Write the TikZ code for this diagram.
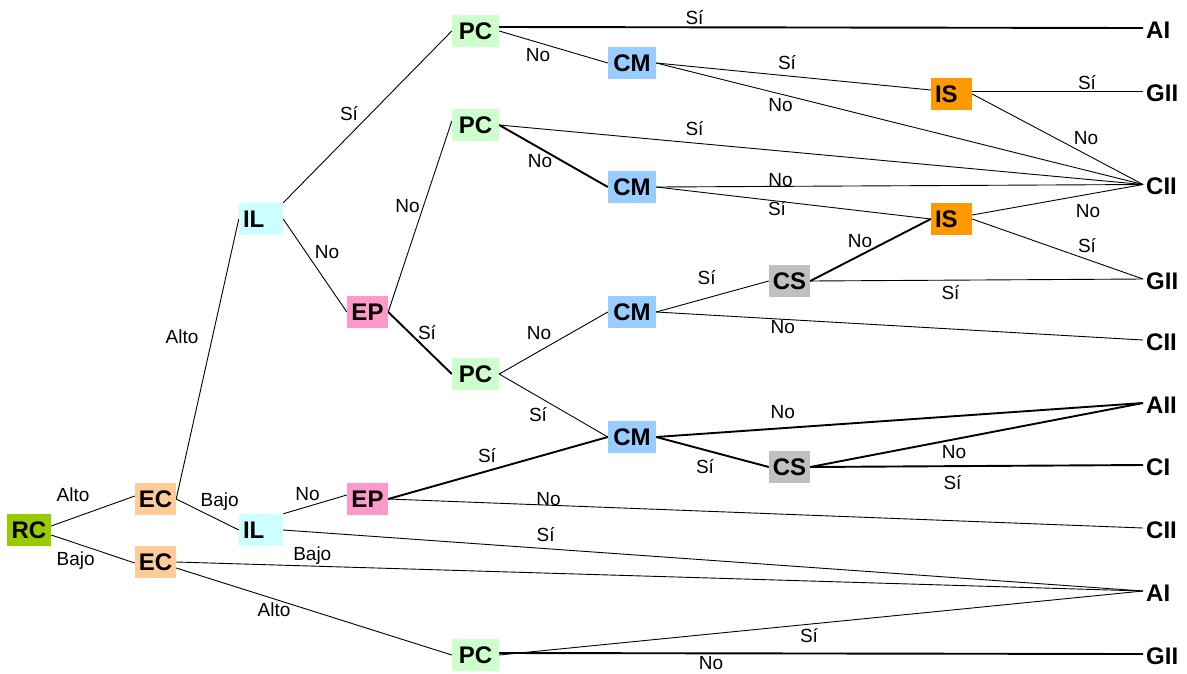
\documentclass[tikz,border=0pt]{standalone}
\usepackage{fontspec}
\setmainfont{Liberation Sans}
\usetikzlibrary{backgrounds}

\definecolor{cRC}{HTML}{99CC00}
\definecolor{cEC}{HTML}{FFCC99}
\definecolor{cIL}{HTML}{CCFFFF}
\definecolor{cEP}{HTML}{FF99CC}
\definecolor{cPC}{HTML}{CCFFCC}
\definecolor{cCM}{HTML}{99CCFF}
\definecolor{cCS}{HTML}{C0C0C0}
\definecolor{cIS}{HTML}{FF9900}

\tikzset{
  box/.style={inner sep=0pt, minimum height=32pt, text depth=0pt,
              font=\bfseries\fontsize{24}{24}\selectfont},
  rcbox/.style={box, fill=cRC, minimum width=44pt},
  ecbox/.style={box, fill=cEC, minimum width=41pt},
  ilbox/.style={box, fill=cIL, minimum width=44pt},
  epbox/.style={box, fill=cEP, minimum width=41pt},
  pcbox/.style={box, fill=cPC, minimum width=47pt},
  cmbox/.style={box, fill=cCM, minimum width=48pt},
  csbox/.style={box, fill=cCS, minimum width=41pt},
  isbox/.style={box, fill=cIS, minimum width=41pt},
  term/.style={anchor=west, inner sep=0pt, font=\bfseries\fontsize{24}{24}\selectfont},
  lbl/.style={inner sep=0pt, font=\fontsize{19}{19}\selectfont},
  thin line/.style={line width=0.9pt},
  thick line/.style={line width=1.9pt},
}

\begin{document}
\begin{tikzpicture}[x=1pt,y=-1pt]
\useasboundingbox (0,0) rectangle (1187,673);

% decision boxes
\node[rcbox] (RC)  at (29,530)    {RC};
\node[ecbox] (EC1) at (155.5,499) {EC};
\node[ecbox] (EC2) at (155.5,562) {EC};
\node[ilbox] (IL1) at (261,219)   {\makebox[44pt][l]{\hspace{4pt}IL}};
\node[ilbox] (IL2) at (261,530)   {\makebox[44pt][l]{\hspace{4pt}IL}};
\node[epbox] (EP1) at (367.5,312) {EP};
\node[epbox] (EP2) at (367.5,499) {EP};
\node[pcbox] (PC1) at (475.5,31)  {PC};
\node[pcbox] (PC2) at (475.5,125) {PC};
\node[pcbox] (PC3) at (475.5,374) {PC};
\node[pcbox] (PC4) at (475.5,655) {PC};
\node[cmbox] (CM1) at (632,63)    {CM};
\node[cmbox] (CM2) at (632,187)   {CM};
\node[cmbox] (CM3) at (632,312)   {CM};
\node[cmbox] (CM4) at (632,437)   {CM};
\node[csbox] (CS1) at (789.5,281) {CS};
\node[csbox] (CS2) at (789.5,467) {CS};
\node[isbox] (IS1) at (951.5,94)  {\makebox[41pt][l]{\hspace{4pt}IS}};
\node[isbox] (IS2) at (951.5,219) {\makebox[41pt][l]{\hspace{4pt}IS}};

% outcomes
\node[term] (T1)  at (1146,30)  {AI};
\node[term] (T2)  at (1146,93)  {GII};
\node[term] (T3)  at (1146,186.5) {CII};
\node[term] (T4)  at (1146,281) {GII};
\node[term] (T5)  at (1146,342) {CII};
\node[term] (T6)  at (1146,405) {AII};
\node[term] (T7)  at (1146,467) {CI};
\node[term] (T8)  at (1146,530) {CII};
\node[term] (T9)  at (1146,593) {AI};
\node[term] (T10) at (1146,656) {GII};
\foreach \t in {T1,T2,T3,T4,T5,T6,T7,T8,T9,T10}
  \coordinate (\t p) at ([shift={(-3pt,2pt)}]\t.west);

% branches
\begin{scope}[on background layer]
  \draw[thin line] ([yshift=4pt]RC.east) -- ([yshift=3pt]EC1.west);
  \draw[thin line] ([yshift=-5pt]RC.east) -- ([yshift=-1pt]EC2.west);
  \draw[thin line] (EC1.east) -- (IL1.west);
  \draw[thin line] (EC1.east) -- (IL2.west);
  \draw[thin line] (IL2.north east) -- ([yshift=4pt]EP2.west);
  \draw[thin line] (IL2.east) -- (T9p);
  \draw[thin line] (EC2.east) -- (T9p);
  \draw[thin line] ([yshift=-6pt]EC2.east) -- (PC4.west);
  \draw[thin line] (PC4.east) -- (T9p);
  \draw[thick line] ([yshift=2pt]PC4.east) -- (T10p);

  \draw[thin line] (IL1.north east) -- (PC1.west);
  \draw[thin line] (IL1.east) -- (EP1.west);
  \draw[thin line] (EP1.east) -- ([yshift=4pt]PC2.west);
  \draw[thick line] (EP1.east) -- (PC3.west);

  \draw[thick line] ([yshift=4pt]PC1.east) -- (T1p);
  \draw[thin line] (PC1.east) -- (CM1.west);
  \draw[thin line] (CM1.east) -- ([yshift=4pt]IS1.west);
  \draw[thin line] (CM1.east) -- (T3p);
  \draw[thin line] ([yshift=3pt]IS1.east) -- (T2p);
  \draw[thin line] (IS1.east) -- (T3p);

  \draw[thin line] (PC2.east) -- (T3p);
  \draw[thick line] (PC2.east) -- (CM2.west);
  \draw[thin line] (CM2.east) -- (T3p);
  \draw[thin line] (CM2.east) -- (IS2.west);
  \draw[thin line] ([yshift=4pt]IS2.east) -- (T3p);
  \draw[thin line] (IS2.east) -- (T4p);

  \draw[thin line] (PC3.east) -- (CM3.west);
  \draw[thin line] (PC3.east) -- (CM4.west);
  \draw[thin line] (CM3.east) -- (CS1.west);
  \draw[thin line] (CM3.east) -- (T5p);
  \draw[thick line] (CS1.east) -- (IS2.west);
  \draw[thin line] (CS1.east) -- (T4p);

  \draw[thick line] (EP2.east) -- (CM4.west);
  \draw[thin line] (EP2.east) -- (T8p);
  \draw[thick line] (CM4.east) -- (T6p);
  \draw[thick line] (CM4.east) -- (CS2.west);
  \draw[thick line] (CS2.east) -- (T6p);
  \draw[thick line] (CS2.east) -- (T7p);
\end{scope}

% branch labels
\node[lbl] (a1)  at (73,494.5)   {Alto};
\node[lbl] (a2)  at (75.7,561)   {Bajo};
\node[lbl] (a3)  at (219.7,501.7){Bajo};
\node[lbl] (a4)  at (182,337)    {Alto};
\node[lbl] (a5)  at (307.5,494)  {No};
\node[lbl] (a6)  at (545.7,534.7){Sí};
\node[lbl] (a7)  at (312.3,555.8){Bajo};
\node[lbl] (a8)  at (274,610)    {Alto};
\node[lbl] (a9)  at (809,635.7)  {Sí};
\node[lbl] (a10) at (711,663.5)  {No};
\node[lbl] (a11) at (548.6,499)  {No};
\node[lbl] (a12) at (487,456)    {Sí};
\node[lbl] (a13) at (538,415)    {Sí};
\node[lbl] (a14) at (539,333)    {No};
\node[lbl] (a15) at (427,332.5)  {Sí};
\node[lbl] (a16) at (407.5,206.5){No};
\node[lbl] (a17) at (327,252.5)  {No};
\node[lbl] (a18) at (349,114)    {Sí};
\node[lbl] (a19) at (694.5,17.5) {Sí};
\node[lbl] (a20) at (538,55)     {No};
\node[lbl] (a21) at (787,63)     {Sí};
\node[lbl] (a22) at (780.5,105.5){No};
\node[lbl] (a23) at (1087,82.5)  {Sí};
\node[lbl] (a24) at (1086,138.5) {No};
\node[lbl] (a25) at (694.5,129)  {Sí};
\node[lbl] (a26) at (540,161)    {No};
\node[lbl] (a27) at (780.5,179.7){No};
\node[lbl] (a28) at (777,209)    {Sí};
\node[lbl] (a29) at (1088,211)   {No};
\node[lbl] (a30) at (1087,245.5) {Sí};
\node[lbl] (a31) at (860,241)    {No};
\node[lbl] (a32) at (706.6,277.5){Sí};
\node[lbl] (a33) at (950.5,292.5){Sí};
\node[lbl] (a34) at (782.8,327.5){No};
\node[lbl] (a35) at (782.8,412.5){No};
\node[lbl] (a36) at (954,451.7)  {No};
\node[lbl] (a37) at (705,466.7)  {Sí};
\node[lbl] (a38) at (952.5,482.5){Sí};
\end{tikzpicture}
\end{document}
